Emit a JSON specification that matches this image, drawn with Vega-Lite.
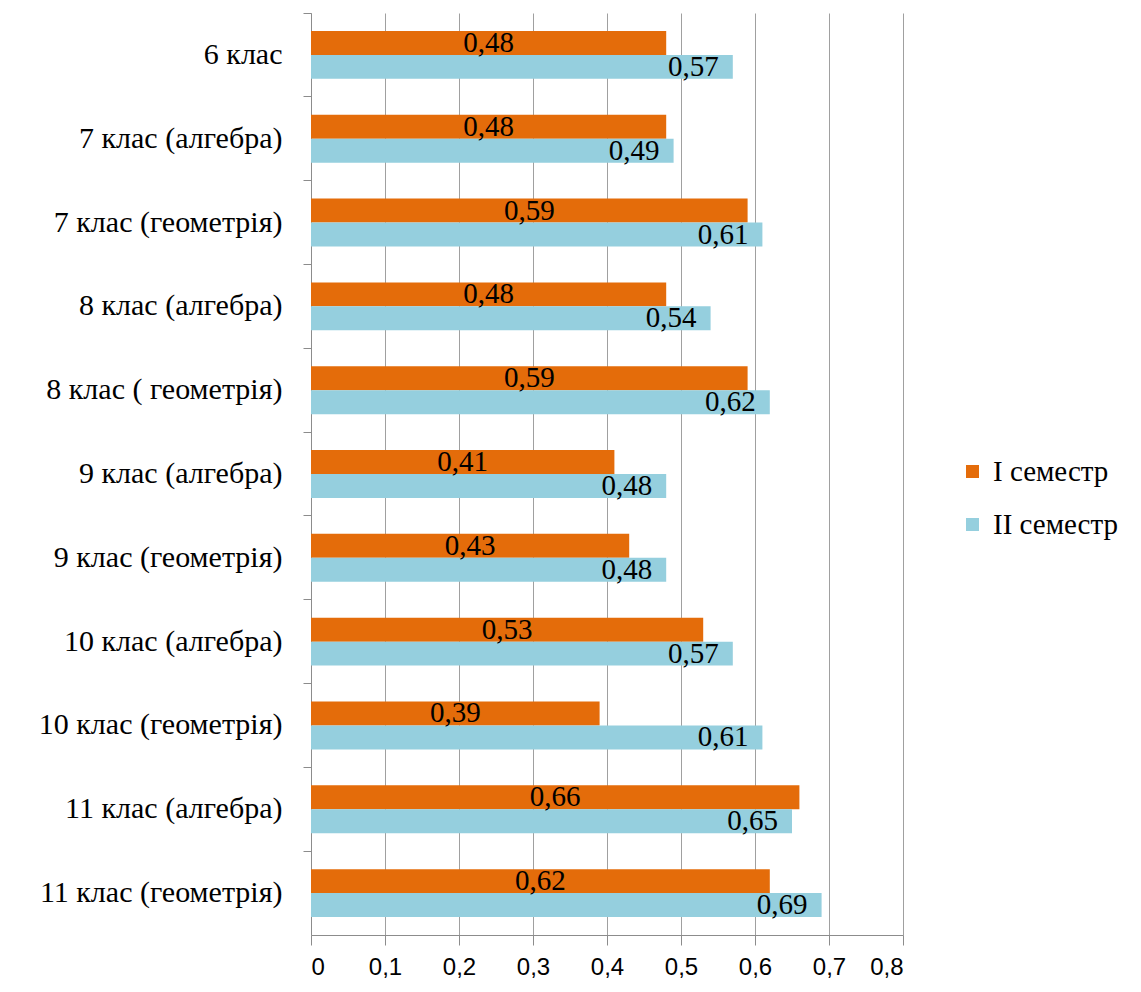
{
  "$schema": "https://vega.github.io/schema/vega-lite/v6.json",
  "autosize": {"type": "none"},
  "width": 592,
  "height": 922,
  "padding": {"left": 311, "top": 13, "right": 238, "bottom": 57},
  "background": "white",
  "config": {
    "locale": {"number": {"decimal": ",", "thousands": " ", "grouping": [3], "currency": ["", ""]}},
    "view": {"stroke": null}
  },
  "data": {
    "values": [
      {"klas": "6 клас ", "semestr": "I семестр", "value": 0.48},
      {"klas": "6 клас ", "semestr": "II семестр", "value": 0.57},
      {"klas": "7 клас (алгебра)", "semestr": "I семестр", "value": 0.48},
      {"klas": "7 клас (алгебра)", "semestr": "II семестр", "value": 0.49},
      {"klas": "7 клас (геометрія)", "semestr": "I семестр", "value": 0.59},
      {"klas": "7 клас (геометрія)", "semestr": "II семестр", "value": 0.61},
      {"klas": "8 клас (алгебра)", "semestr": "I семестр", "value": 0.48},
      {"klas": "8 клас (алгебра)", "semestr": "II семестр", "value": 0.54},
      {"klas": "8 клас ( геометрія)", "semestr": "I семестр", "value": 0.59},
      {"klas": "8 клас ( геометрія)", "semestr": "II семестр", "value": 0.62},
      {"klas": "9 клас (алгебра)", "semestr": "I семестр", "value": 0.41},
      {"klas": "9 клас (алгебра)", "semestr": "II семестр", "value": 0.48},
      {"klas": "9 клас (геометрія)", "semestr": "I семестр", "value": 0.43},
      {"klas": "9 клас (геометрія)", "semestr": "II семестр", "value": 0.48},
      {"klas": "10 клас (алгебра)", "semestr": "I семестр", "value": 0.53},
      {"klas": "10 клас (алгебра)", "semestr": "II семестр", "value": 0.57},
      {"klas": "10 клас (геометрія)", "semestr": "I семестр", "value": 0.39},
      {"klas": "10 клас (геометрія)", "semestr": "II семестр", "value": 0.61},
      {"klas": "11 клас (алгебра)", "semestr": "I семестр", "value": 0.66},
      {"klas": "11 клас (алгебра)", "semestr": "II семестр", "value": 0.65},
      {"klas": "11 клас (геометрія)", "semestr": "I семестр", "value": 0.62},
      {"klas": "11 клас (геометрія)", "semestr": "II семестр", "value": 0.69}
    ]
  },
  "encoding": {
    "y": {
      "field": "klas",
      "type": "nominal",
      "sort": null,
      "scale": {"paddingInner": 0, "paddingOuter": 0},
      "axis": {
        "title": null,
        "bandPosition": 0,
        "tickSize": 8,
        "tickColor": "#8c8c8c",
        "domainColor": "#8c8c8c",
        "labelFont": "'Liberation Serif', 'Times New Roman', serif",
        "labelFontSize": 30,
        "labelColor": "#000000",
        "labelPadding": 21,
        "labelLimit": 400,
        "grid": false
      }
    },
    "yOffset": {
      "field": "semestr",
      "type": "nominal",
      "sort": ["I семестр", "II семестр"],
      "scale": {"paddingInner": 0, "paddingOuter": 0.75}
    }
  },
  "layer": [
    {
      "mark": {"type": "bar"},
      "encoding": {
        "x": {
          "field": "value",
          "type": "quantitative",
          "scale": {"domain": [0, 0.8], "nice": false},
          "axis": {
            "title": null,
            "values": [0, 0.1, 0.2, 0.3, 0.4, 0.5, 0.6, 0.7, 0.8],
            "format": "~g",
            "grid": true,
            "gridColor": "#a0a0a0",
            "tickSize": 10,
            "tickColor": "#8c8c8c",
            "domainColor": "#8c8c8c",
            "labelFont": "'Liberation Sans Narrow', 'Liberation Sans', sans-serif",
            "labelFontSize": 24,
            "labelColor": "#000000",
            "labelPadding": 10
          }
        },
        "color": {
          "field": "semestr",
          "type": "nominal",
          "scale": {"domain": ["I семестр", "II семестр"], "range": ["#E46C0A", "#95CFDE"]},
          "legend": {
            "title": null,
            "orient": "none",
            "legendX": 647,
            "legendY": 444,
            "symbolType": "square",
            "symbolSize": 170,
            "symbolStrokeWidth": 0,
            "labelFont": "'Liberation Serif', 'Times New Roman', serif",
            "labelFontSize": 29,
            "labelColor": "#000000",
            "labelOffset": 6,
            "rowPadding": 23
          }
        }
      }
    },
    {
      "transform": [
        {"filter": "datum.semestr === 'I семестр'"},
        {"calculate": "datum.value / 2", "as": "mid"}
      ],
      "mark": {"type": "text", "font": "'Liberation Serif', 'Times New Roman', serif", "fontSize": 29, "color": "#000000", "align": "center", "baseline": "middle"},
      "encoding": {
        "x": {"field": "mid", "type": "quantitative"},
        "text": {"field": "value", "type": "quantitative", "format": ".2f"}
      }
    },
    {
      "transform": [{"filter": "datum.semestr === 'II семестр'"}],
      "mark": {"type": "text", "font": "'Liberation Serif', 'Times New Roman', serif", "fontSize": 29, "color": "#000000", "align": "right", "baseline": "middle", "dx": -14},
      "encoding": {
        "x": {"field": "value", "type": "quantitative"},
        "text": {"field": "value", "type": "quantitative", "format": ".2f"}
      }
    }
  ]
}
